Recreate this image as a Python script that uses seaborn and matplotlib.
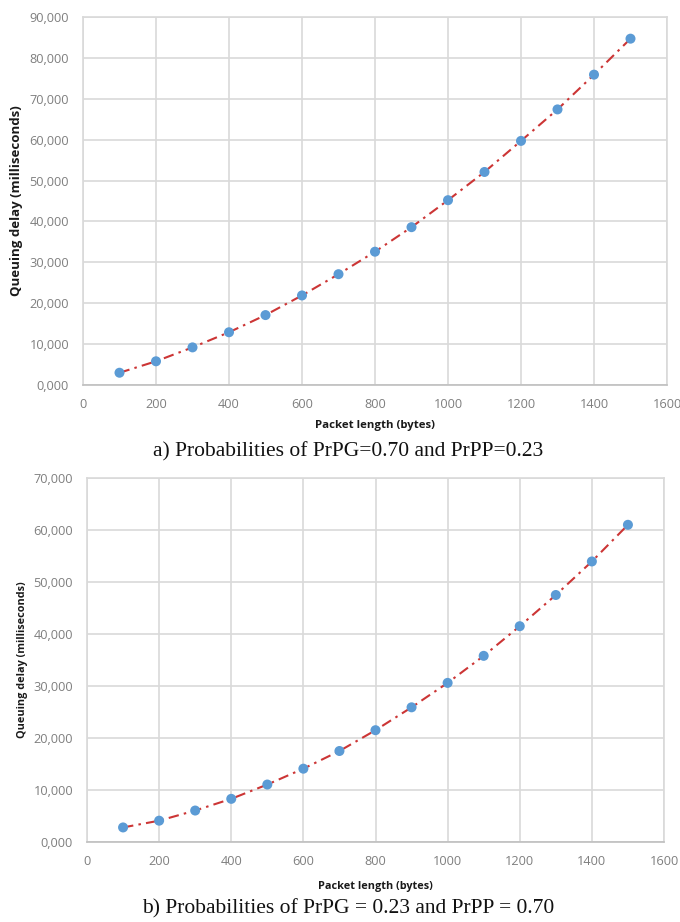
import matplotlib
matplotlib.use("Agg")
import matplotlib.pyplot as plt
import seaborn as sns
import pandas as pd

# Packet lengths (bytes) and measured queuing delays (milliseconds)
packet_length = [100, 200, 300, 400, 500, 600, 700, 800, 900, 1000, 1100, 1200, 1300, 1400, 1500]
delay_a = [3000, 5800, 9200, 12900, 17100, 21900, 27100, 32600, 38600, 45200,
           52100, 59700, 67400, 75900, 84700]
delay_b = [2800, 4100, 6050, 8300, 11050, 14100, 17500, 21500, 25900, 30600,
           35800, 41500, 47500, 53950, 61000]

x_ticks = [0, 200, 400, 600, 800, 1000, 1200, 1400, 1600]
y_ticks_a = [0, 10000, 20000, 30000, 40000, 50000, 60000, 70000, 80000, 90000]
y_labels_a = ["0,000", "10,000", "20,000", "30,000", "40,000", "50,000",
              "60,000", "70,000", "80,000", "90,000"]
y_ticks_b = [0, 10000, 20000, 30000, 40000, 50000, 60000, 70000]
y_labels_b = ["0,000", "10,000", "20,000", "30,000", "40,000", "50,000",
              "60,000", "70,000"]

captions = ["a) Probabilities of PrPG=0.70 and PrPP=0.23",
            "b) Probabilities of PrPG = 0.23 and PrPP = 0.70"]
x_title = "Packet length (bytes)"
y_title = "Queuing delay (milliseconds)"

sns.set_theme(style="white")
plt.rcParams["font.family"] = ["Open Sans", "DejaVu Sans"]

W, H = 680, 922
fig = plt.figure(figsize=(W / 100, H / 100), dpi=100)

def px_axes(left, top, right, bottom):
    return fig.add_axes([left / W, 1 - bottom / H, (right - left) / W, (bottom - top) / H])

grid_col = "#d9d9d9"
tick_col = "#7f7f7f"
line_col = "#cc3535"
dot_col = "#5b9bd5"

# (axes, delays, y ticks, y tick labels, y max, y-title x, y-title size,
#  x-title y, x-title size, caption y)
panels = [
    (px_axes(83, 17, 667, 385), delay_a, y_ticks_a, y_labels_a, 90000, 17, 9.5, 425, 8.2, 452),
    (px_axes(87, 478, 664, 842), delay_b, y_ticks_b, y_labels_b, 70000, 22, 7.8, 886, 7.8, 909),
]

for i, (ax, delays, yt, yl, ymax, ylab_x, ylab_fs, xlab_y, xlab_fs, cap_y) in enumerate(panels):
    df = pd.DataFrame({"length": packet_length, "delay": delays})
    sns.lineplot(data=df, x="length", y="delay", ax=ax, color=line_col,
                 linewidth=1.5, linestyle=(0, (5, 2.5, 1.2, 2.5)), zorder=3)
    sns.scatterplot(data=df, x="length", y="delay", ax=ax, color=dot_col,
                    s=52, edgecolor="none", zorder=4)
    ax.set_xlim(0, 1600)
    ax.set_ylim(0, ymax)
    ax.set_xticks(x_ticks)
    ax.set_xticklabels([str(v) for v in x_ticks])
    ax.set_yticks(yt)
    ax.set_yticklabels(yl)
    ax.grid(True, color=grid_col, linewidth=1.2)
    ax.set_axisbelow(True)
    for side in ["top", "right", "left"]:
        ax.spines[side].set_color(grid_col)
        ax.spines[side].set_linewidth(1.2)
    ax.spines["bottom"].set_color("#bfbfbf")
    ax.spines["bottom"].set_linewidth(1.2)
    ax.tick_params(axis="both", length=0, labelsize=9.2, colors=tick_col)
    ax.tick_params(axis="x", pad=9)
    ax.tick_params(axis="y", pad=10)
    ax.set_xlabel("")
    ax.set_ylabel("")
    pos = ax.get_position()
    ymid = (pos.y0 + pos.y1) / 2
    fig.text(ylab_x / W, ymid, y_title, rotation=90, ha="center", va="center",
             fontsize=ylab_fs, fontweight="bold", color="#1a1a1a")
    xmid = (pos.x0 + pos.x1) / 2
    fig.text(xmid, 1 - xlab_y / H, x_title, ha="center", va="center",
             fontsize=xlab_fs, fontweight="bold", color="#1a1a1a")
    fig.text(348 / W, 1 - cap_y / H, captions[i], ha="center", va="center",
             fontsize=15.5, family=["Liberation Serif", "DejaVu Serif"], color="#111111")

fig.savefig("out.png", dpi=100, facecolor="white")
